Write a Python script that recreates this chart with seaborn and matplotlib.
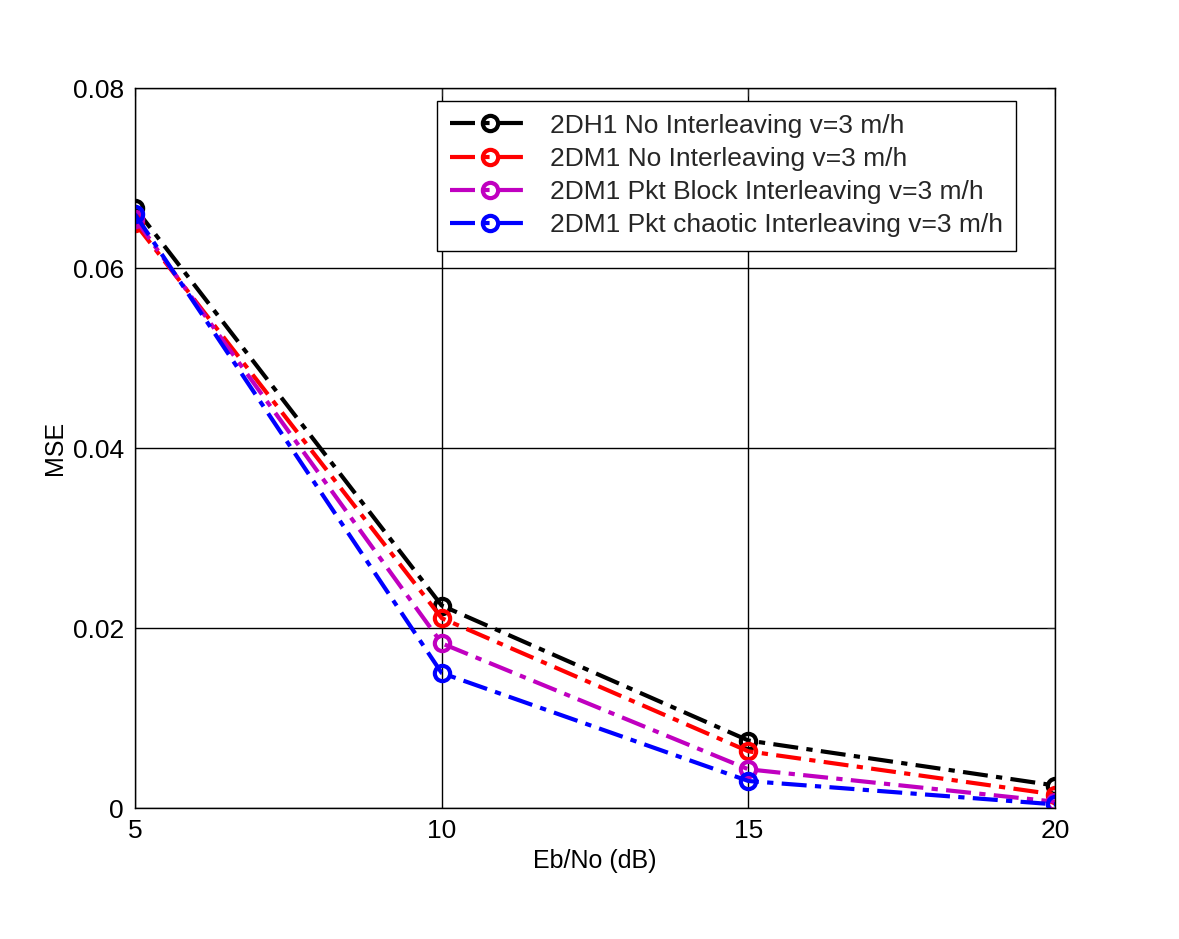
import numpy as np
import pandas as pd
import matplotlib
matplotlib.use("Agg")
import matplotlib.pyplot as plt
import seaborn as sns

ebno = [5, 10, 15, 20]
mse_2dh1_noint = [0.0667, 0.0225, 0.0075, 0.0025]
mse_2dm1_noint = [0.0650, 0.0211, 0.0063, 0.0015]
mse_2dm1_block = [0.0655, 0.0183, 0.0043, 0.0007]
mse_2dm1_chaotic = [0.0660, 0.0150, 0.0030, 0.0004]
labels = ["2DH1 No Interleaving v=3 m/h",
          "2DM1 No Interleaving v=3 m/h",
          "2DM1 Pkt Block Interleaving v=3 m/h",
          "2DM1 Pkt chaotic Interleaving v=3 m/h"]
colors = ["black", "red", "#c000c0", "blue"]

sns.set_style("white")
plt.rcParams['font.family'] = ['Arial', 'Liberation Sans', 'DejaVu Sans']

rows = []
for lab, vals in zip(labels, [mse_2dh1_noint, mse_2dm1_noint, mse_2dm1_block, mse_2dm1_chaotic]):
    for x, v in zip(ebno, vals):
        rows.append({"Eb/No": x, "MSE": v, "series": lab})
df = pd.DataFrame(rows)

fig = plt.figure(figsize=(11.79, 9.39), dpi=100)
ax = fig.add_axes([0.1145, 0.1395, 0.7805, 0.7665])
for lab, c in zip(labels, colors):
    d = df[df.series == lab]
    sns.lineplot(data=d, x="Eb/No", y="MSE", ax=ax, color=c, lw=3,
                 marker="o", markersize=11, markerfacecolor="none", markeredgecolor=c,
                 markeredgewidth=3, label=lab, dashes=False)
for line in ax.get_lines():
    line.set_dashes([6, 2, 1.5, 2])

ax.set_xlim(5, 20)
ax.set_ylim(0, 0.08)
ax.set_xticks([5, 10, 15, 20])
ax.set_yticks([0, 0.02, 0.04, 0.06, 0.08])
ax.set_yticklabels(["0", "0.02", "0.04", "0.06", "0.08"])
ax.grid(True, color="black", lw=1, ls="-")
ax.tick_params(labelsize=19, labelcolor="black", direction="in", length=6,
               top=True, right=True, pad=8)
for s in ax.spines.values():
    s.set_color("black")
    s.set_linewidth(1)
ax.set_xlabel("Eb/No (dB)", fontsize=18, color="black")
ax.set_ylabel("MSE", fontsize=18, color="black")
leg = ax.legend(loc="upper left", bbox_to_anchor=(0.328, 0.983), fontsize=19,
                frameon=True, fancybox=False, edgecolor="black", framealpha=1,
                borderaxespad=0, handlelength=3, labelspacing=0.35, borderpad=0.5)
leg.get_frame().set_linewidth(1)
for line in leg.get_lines():
    line.set_dashes([6, 2, 1.5, 2])
fig.savefig("out.png", dpi=100)
